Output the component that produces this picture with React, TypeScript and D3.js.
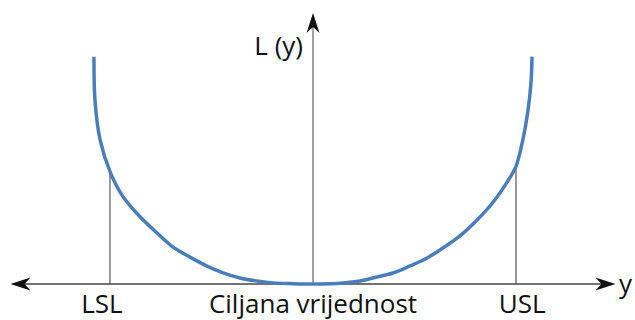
import React, { useRef, useEffect } from 'react';
import * as d3 from 'd3';

// curve: y (LSL = -1, target = 0, USL = 1) and loss L(y), L(LSL) ~ 1
const curveY = [
  -1.079, -1.074, -1.049, -0.997, -0.936, -0.852, -0.768, -0.69, -0.606, -0.522,
  -0.443, -0.36, -0.276, -0.197, -0.113, 0, 0.148, 0.232, 0.315, 0.394, 0.478,
  0.562, 0.64, 0.724, 0.808, 0.887, 0.97, 1.0, 1.034, 1.059, 1.074, 1.079
];
const curveL = [
  2.03, 1.64, 1.29, 0.99, 0.78, 0.6, 0.455, 0.33, 0.24, 0.16,
  0.1, 0.054, 0.027, 0.01, 0.004, 0, 0.009, 0.027, 0.063, 0.098, 0.161,
  0.232, 0.321, 0.429, 0.571, 0.73, 0.95, 1.05, 1.29, 1.55, 1.8, 2.03
];

const limitY = [-1, 1];
const limitL = [0.99, 1.05];
const tickY = [-1.04, 0, 1.03];
const tickLabels = ['LSL', 'Ciljana vrijednost', 'USL'];

const width = 635;
const height = 320;

export default function App() {
  const ref = useRef<SVGSVGElement>(null);

  useEffect(() => {
    const svg = d3.select(ref.current);
    svg.selectAll('*').remove();

    const x = d3.scaleLinear().domain([-1, 1]).range([110, 516]);
    const y = d3.scaleLinear().domain([0, 1]).range([284, 172]);

    const data = curveY.map((v, i) => ({ y: v, l: curveL[i] }));
    const font = "'Open Sans', sans-serif";

    // stealth arrowhead, tip at origin pointing right
    const arrow = (px: number, py: number, angle: number) => {
      svg.append('path')
        .attr('d', 'M0,0 L-20,-6.5 L-14,0 L-20,6.5 Z')
        .attr('fill', '#111')
        .attr('transform', `translate(${px},${py}) rotate(${angle})`);
    };

    // spec limit guides
    limitY.forEach((v, i) => {
      svg.append('line')
        .attr('x1', x(v)).attr('x2', x(v))
        .attr('y1', y(0)).attr('y2', y(limitL[i]))
        .attr('stroke', '#555')
        .attr('stroke-width', 1.2);
    });

    // vertical axis
    svg.append('line')
      .attr('x1', x(0)).attr('x2', x(0))
      .attr('y1', y(0)).attr('y2', y(2.38))
      .attr('stroke', '#666')
      .attr('stroke-width', 1.2);
    arrow(x(0), y(2.42), -90);

    // horizontal axis
    svg.append('line')
      .attr('x1', x(-1.47)).attr('x2', x(1.47))
      .attr('y1', y(0)).attr('y2', y(0))
      .attr('stroke', '#444')
      .attr('stroke-width', 1.4);
    arrow(x(-1.49), y(0), 180);
    arrow(x(1.49), y(0), 0);

    // loss curve
    svg.append('path')
      .datum(data)
      .attr('fill', 'none')
      .attr('stroke', '#4a7ebb')
      .attr('stroke-width', 3.5)
      .attr('d', d3.line<{ y: number; l: number }>()
        .x(d => x(d.y))
        .y(d => y(d.l))
        .curve(d3.curveCatmullRom.alpha(0.5))
      );

    // labels under the axis
    tickY.forEach((v, i) => {
      svg.append('text')
        .attr('x', x(v))
        .attr('y', 313)
        .attr('text-anchor', 'middle')
        .attr('font-family', font)
        .attr('font-size', 26)
        .attr('fill', '#111')
        .text(tickLabels[i]);
    });

    svg.append('text')
      .attr('x', 303)
      .attr('y', 55)
      .attr('text-anchor', 'end')
      .attr('font-family', font)
      .attr('font-size', 26)
      .attr('fill', '#111')
      .text('L (y)');

    svg.append('text')
      .attr('x', 619)
      .attr('y', 293)
      .attr('font-family', font)
      .attr('font-size', 26)
      .attr('fill', '#111')
      .text('y');
  }, []);

  return (
    <svg
      ref={ref}
      width={width}
      height={height}
      style={{ position: 'absolute', left: 0, top: 0, background: '#fff' }}
    />
  );
}
